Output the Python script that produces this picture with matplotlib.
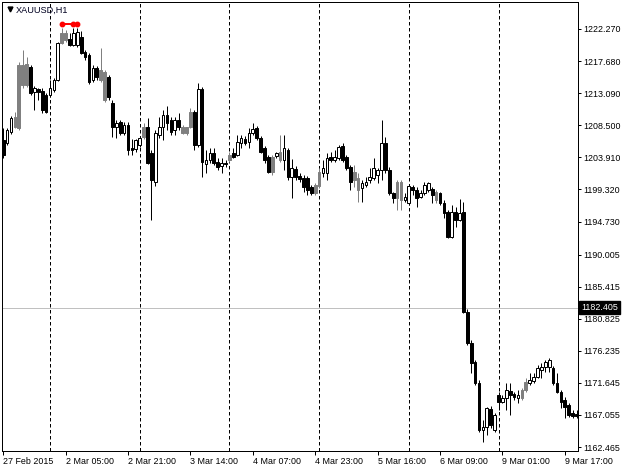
import matplotlib
matplotlib.use('Agg')
import matplotlib.pyplot as plt
import matplotlib.transforms as mtransforms

plt.rcParams['font.family'] = ['Liberation Sans', 'DejaVu Sans']

# chart data, hourly bars from 27 Feb 2015 12:00
symbol = 'XAUUSD,H1'

opens = [1206.4, 1206.0, 1207.5, 1208.3, 1208.1, 1217.1, 1214.3, 1216.8, 1213.3, 1213.7,
         1213.4, 1212.8, 1212.8, 1213.5, 1215.0, 1220.3, 1221.7, 1220.8, 1220.0, 1220.0,
         1221.1, 1219.0, 1218.6, 1215.0, 1216.7, 1216.4, 1216.1, 1215.4, 1211.7, 1208.3,
         1209.0, 1207.4, 1208.5, 1205.2, 1205.1, 1205.7, 1206.8, 1208.3, 1204.5, 1200.4,
         1207.1, 1208.3, 1210.0, 1209.3, 1207.8, 1209.3, 1208.3, 1207.4, 1208.3, 1210.4,
         1205.7, 1213.7, 1203.0, 1203.5, 1204.5, 1203.2, 1202.7, 1203.1, 1203.5, 1204.5,
         1204.2, 1206.0, 1206.5, 1206.1, 1207.4, 1208.1, 1206.7, 1205.2, 1204.0, 1201.8,
         1204.1, 1204.7, 1203.5, 1205.0, 1201.1, 1202.2, 1201.2, 1200.9, 1200.9, 1199.7,
         1198.8, 1199.8, 1201.7, 1201.7, 1204.0, 1203.5, 1203.8, 1205.5, 1204.0, 1202.5,
         1200.7, 1200.9, 1199.5, 1199.9, 1200.7, 1200.9, 1201.4, 1202.1, 1206.0, 1202.1,
         1198.8, 1198.1, 1200.4, 1197.8, 1197.4, 1199.7, 1199.2, 1198.2, 1198.8, 1199.2,
         1199.4, 1198.9, 1198.8, 1197.4, 1196.1, 1192.5, 1196.1, 1194.9, 1196.1, 1181.8,
         1177.3, 1174.6, 1171.6, 1164.9, 1165.3, 1167.9, 1164.9, 1169.9, 1168.9, 1169.5,
         1170.5, 1170.0, 1169.5, 1169.5, 1170.6, 1171.6, 1171.9, 1172.5, 1173.5, 1173.9,
         1173.9, 1173.8, 1171.6, 1170.3, 1169.2, 1168.5, 1167.3, 1167.2]
highs = [1208.1, 1208.1, 1209.8, 1210.4, 1217.6, 1219.3, 1218.3, 1217.1, 1214.1, 1213.8,
         1213.8, 1213.1, 1215.0, 1215.3, 1220.4, 1222.4, 1222.1, 1221.7, 1222.4, 1222.4,
         1222.0, 1219.3, 1218.8, 1217.1, 1217.0, 1219.6, 1216.4, 1215.7, 1212.1, 1209.3,
         1209.3, 1209.0, 1209.0, 1206.5, 1206.5, 1207.0, 1208.8, 1209.5, 1205.0, 1207.8,
         1209.7, 1210.7, 1211.3, 1209.7, 1209.7, 1210.3, 1208.5, 1208.3, 1211.0, 1210.7,
         1214.5, 1214.0, 1205.0, 1205.2, 1205.2, 1203.8, 1203.8, 1203.5, 1204.7, 1205.2,
         1207.1, 1207.1, 1207.0, 1208.1, 1208.8, 1208.4, 1207.0, 1205.5, 1204.2, 1204.2,
         1204.7, 1207.1, 1207.1, 1205.2, 1203.7, 1202.7, 1201.7, 1201.4, 1201.2, 1199.9,
         1200.2, 1202.4, 1203.5, 1204.5, 1204.7, 1205.0, 1205.7, 1206.0, 1204.2, 1202.8,
         1202.8, 1201.7, 1200.7, 1201.1, 1202.4, 1203.8, 1202.4, 1209.3, 1206.8, 1202.5,
         1198.9, 1200.7, 1200.7, 1198.8, 1200.1, 1199.9, 1199.7, 1199.2, 1200.4, 1200.4,
         1199.7, 1199.2, 1198.9, 1197.8, 1196.4, 1197.1, 1196.8, 1197.9, 1197.5, 1182.2,
         1177.8, 1174.9, 1172.1, 1166.3, 1168.2, 1168.3, 1167.3, 1170.3, 1169.9, 1171.6,
         1171.6, 1170.3, 1170.6, 1170.9, 1172.3, 1173.1, 1173.1, 1174.2, 1174.5, 1174.9,
         1175.2, 1174.1, 1173.1, 1170.6, 1169.6, 1168.8, 1167.8, 1167.8]
lows = [1203.8, 1205.7, 1207.3, 1208.1, 1207.8, 1213.8, 1214.0, 1212.8, 1210.7, 1212.1,
        1210.3, 1210.3, 1212.5, 1213.3, 1214.8, 1220.1, 1220.4, 1219.8, 1219.8, 1219.7,
        1218.7, 1217.8, 1214.4, 1214.7, 1215.0, 1214.7, 1211.8, 1212.1, 1206.8, 1206.7,
        1207.1, 1207.1, 1204.2, 1204.2, 1204.7, 1205.4, 1206.5, 1203.0, 1194.9, 1199.8,
        1206.7, 1206.4, 1207.8, 1207.1, 1207.1, 1207.8, 1207.3, 1207.1, 1208.1, 1205.0,
        1205.4, 1201.1, 1201.7, 1203.1, 1202.8, 1202.1, 1201.7, 1202.5, 1203.2, 1203.8,
        1204.1, 1205.2, 1205.7, 1205.2, 1207.1, 1206.4, 1204.5, 1203.1, 1201.7, 1201.4,
        1203.8, 1203.2, 1202.1, 1200.7, 1198.1, 1200.7, 1200.4, 1198.9, 1198.5, 1198.5,
        1198.5, 1199.5, 1201.1, 1200.7, 1203.2, 1203.2, 1203.5, 1203.2, 1202.1, 1199.2,
        1199.7, 1197.5, 1197.5, 1199.7, 1200.2, 1200.7, 1200.2, 1200.7, 1201.7, 1198.5,
        1197.4, 1196.4, 1196.4, 1197.5, 1197.1, 1198.5, 1196.8, 1198.1, 1198.5, 1198.9,
        1197.4, 1197.4, 1197.1, 1195.2, 1192.4, 1192.4, 1193.9, 1194.8, 1181.6, 1177.1,
        1173.1, 1171.3, 1164.6, 1163.2, 1164.2, 1165.2, 1164.6, 1167.8, 1168.8, 1167.8,
        1167.0, 1169.2, 1168.8, 1169.2, 1170.3, 1171.3, 1171.6, 1172.3, 1172.3, 1173.2,
        1173.2, 1171.3, 1170.2, 1168.0, 1166.6, 1166.8, 1166.6, 1166.6]
closes = [1204.2, 1207.8, 1209.5, 1209.7, 1217.1, 1214.3, 1217.3, 1213.1, 1213.8, 1213.3,
          1210.7, 1210.4, 1213.8, 1215.0, 1220.3, 1221.7, 1220.7, 1220.0, 1221.7, 1221.8,
          1218.8, 1218.3, 1214.7, 1216.7, 1215.4, 1215.0, 1212.1, 1212.5, 1208.3, 1208.8,
          1207.4, 1208.5, 1205.0, 1205.0, 1206.4, 1206.7, 1208.3, 1203.1, 1200.7, 1207.4,
          1208.3, 1210.0, 1208.8, 1207.5, 1209.3, 1208.3, 1207.4, 1208.3, 1210.4, 1205.7,
          1213.7, 1203.2, 1203.5, 1204.5, 1203.1, 1202.5, 1203.1, 1203.0, 1204.2, 1204.0,
          1206.1, 1206.7, 1206.0, 1207.4, 1208.0, 1206.7, 1204.7, 1203.5, 1201.8, 1204.0,
          1204.5, 1203.5, 1205.2, 1201.1, 1202.4, 1201.1, 1200.8, 1199.7, 1199.2, 1198.8,
          1199.9, 1201.8, 1202.4, 1203.8, 1203.5, 1204.0, 1205.4, 1203.5, 1202.4, 1200.4,
          1201.8, 1199.2, 1200.2, 1200.4, 1201.1, 1202.4, 1202.1, 1206.0, 1202.1, 1198.8,
          1198.1, 1200.4, 1197.8, 1198.2, 1199.8, 1199.2, 1198.1, 1198.8, 1199.9, 1200.2,
          1198.5, 1197.8, 1197.4, 1195.9, 1192.5, 1196.1, 1194.9, 1195.9, 1181.8, 1177.3,
          1174.5, 1171.6, 1164.9, 1165.4, 1168.0, 1165.6, 1167.0, 1168.9, 1169.5, 1170.6,
          1169.9, 1169.6, 1169.9, 1170.6, 1171.8, 1172.1, 1172.5, 1173.8, 1173.9, 1174.6,
          1174.9, 1171.6, 1170.3, 1168.9, 1168.2, 1167.0, 1166.9, 1166.9]

# bars drawn in gray on the original chart
gray_bars = [3, 4, 5, 6, 15, 16, 25, 26, 36, 46, 47, 48, 58, 69, 71, 80, 81,
             90, 91, 101, 102, 111, 133, 134]

# first bar of each day (period separators)
day_starts = [12, 35, 58, 81, 104, 127]

time_ticks = [0, 16, 32, 48, 64, 80, 96, 112, 128, 144]
time_labels = ['27 Feb 2015', '2 Mar 05:00', '2 Mar 21:00', '3 Mar 14:00',
               '4 Mar 07:00', '4 Mar 23:00', '5 Mar 16:00', '6 Mar 09:00',
               '9 Mar 01:00', '9 Mar 17:00']

price_ticks = [1222.270, 1217.680, 1213.090, 1208.500, 1203.910, 1199.320,
               1194.730, 1190.005, 1185.415, 1180.825, 1176.235, 1171.645,
               1167.055, 1162.465]

level_price = 1182.405
top_bars = [15, 18, 19]
top_price = 1222.95

px = 0.72  # one pixel in points

fig = plt.figure(figsize=(6.25, 4.69), dpi=100)
ax = fig.add_axes([2 / 625, 1 - 451 / 469, 576 / 625, 449 / 469])

n = len(opens)
idx = list(range(n))

faces = []
edges = []
for i in idx:
    if i in gray_bars:
        faces.append('#808080')
        edges.append('#808080')
    elif closes[i] > opens[i]:
        faces.append('white')
        edges.append('black')
    else:
        faces.append('black')
        edges.append('black')

bottoms = [min(o, c) for o, c in zip(opens, closes)]
heights = [max(abs(c - o), 0.1) for o, c in zip(opens, closes)]

# wicks then bodies
ax.vlines(idx, lows, highs, colors=edges, linewidth=px, zorder=2)
ax.bar(idx, heights, width=0.68, bottom=bottoms, color=faces,
       edgecolor=edges, linewidth=px, zorder=3)

# period separators
for d in day_starts:
    ax.axvline(d, color='black', linewidth=px, linestyle=(0, (3.5, 2.5)), zorder=1)

# horizontal level
ax.axhline(level_price, color='#c0c0c0', linewidth=px, zorder=1)
trans = mtransforms.blended_transform_factory(ax.transAxes, ax.transData)
ax.text(1.005, level_price, '%.3f' % level_price, transform=trans,
        ha='left', va='center', color='white', fontsize=6.4,
        bbox=dict(boxstyle='square,pad=0.25', fc='black', ec='black'))

# red marks on the top highs
ax.plot(top_bars, [top_price] * len(top_bars), color='red', linewidth=1.4,
        marker='o', markersize=3.2, zorder=4)

ax.set_xlim(-0.31, 147.38)
ax.set_ylim(1161.9, 1226.13)

ax.yaxis.tick_right()
ax.set_yticks(price_ticks)
ax.set_yticklabels(['%.3f' % p for p in price_ticks])
ax.set_xticks(time_ticks)
ax.set_xticklabels(time_labels)
for lbl in ax.get_xticklabels():
    lbl.set_ha('left')

ax.tick_params(axis='y', direction='out', length=2.5, width=px, pad=1.5,
               labelsize=6.4, colors='black')
ax.tick_params(axis='x', direction='out', length=3, width=px, pad=1.5,
               labelsize=6.4, colors='black')
for s in ax.spines.values():
    s.set_linewidth(px)
    s.set_color('black')

# symbol caption
ax.plot([7.5 / 576], [1 - 7.5 / 449], transform=ax.transAxes, marker='v',
        color='black', markersize=3.5, clip_on=False)
ax.text(14 / 576, 1 - 8 / 449, symbol, transform=ax.transAxes, ha='left',
        va='center', fontsize=6.6, color='#000020')

fig.savefig('out.png', dpi=100, facecolor='white')
